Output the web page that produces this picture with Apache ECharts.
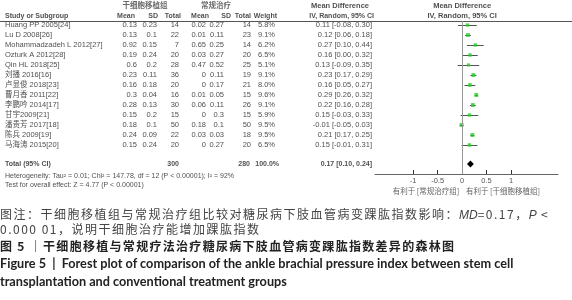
<!DOCTYPE html>
<html>
<head>
<meta charset="utf-8">
<script src="https://cdn.jsdelivr.net/npm/echarts@6/dist/echarts.min.js"></script>
<style>
body { margin: 0; background: #fff; }
#wrap { position: relative; width: 572px; height: 300px; overflow: hidden; }
#chart { position: absolute; left: 0; top: 0; width: 572px; height: 300px; }
.cap { position: absolute; left: 0; white-space: nowrap; line-height: 16px; height: 16px; }
.cn { font-family: 'Noto Sans CJK SC', sans-serif; font-size: 12px; letter-spacing: 1.5px; color: #444; }
.cn i { font-family: 'Liberation Sans', Arial, sans-serif; letter-spacing: 0; }
.cnb { font-family: 'Noto Sans CJK SC', sans-serif; font-size: 12px; letter-spacing: 1.3px; color: #222; font-weight: bold; }
.en { font-family: Lato, 'Open Sans', sans-serif; font-size: 12.7px; font-weight: bold; color: #222; }
</style>
</head>
<body>
<div id="wrap">
  <div id="chart"></div>
  <div class="cap cn" style="top:206px">图注：干细胞移植组与常规治疗组比较对糖尿病下肢血管病变踝肱指数影响：<i>MD</i>=0.17，<i>P</i> &lt;</div>
  <div class="cap cn" style="top:221px">0.000 01，说明干细胞治疗能增加踝肱指数</div>
  <div class="cap cnb" style="top:238px">图 5 ｜干细胞移植与常规疗法治疗糖尿病下肢血管病变踝肱指数差异的森林图</div>
  <div class="cap en" style="top:255px">Figure 5 &nbsp;|&nbsp; Forest plot of comparison of the ankle brachial pressure index between stem cell</div>
  <div class="cap en" style="top:273px">transplantation and conventional treatment groups</div>
</div>
<script>
// 研究数据
var studies = ['Huang PP 2005[24]', 'Lu D 2008[26]', 'Mohammadzadeh L 2012[27]', 'Ozturk A 2012[28]',
  'Qin HL 2018[25]', '刘播 2016[16]', '卢显俊 2018[23]', '曹月香 2011[22]', '李鹏吟 2014[17]',
  '甘宇2009[21]', '潘贵芳 2017[18]', '陈兵 2009[19]', '马海涛 2015[20]']
var expMean = [0.13, 0.13, 0.92, 0.19, 0.6, 0.23, 0.16, 0.3, 0.28, 0.15, 0.18, 0.24, 0.15]
var expSD = [0.23, 0.1, 0.15, 0.24, 0.2, 0.11, 0.18, 0.04, 0.13, 0.2, 0.1, 0.09, 0.24]
var expN = [14, 22, 7, 20, 28, 36, 20, 16, 30, 15, 50, 22, 20]
var ctlMean = [0.02, 0.01, 0.65, 0.03, 0.47, 0, 0, 0.01, 0.06, 0, 0.18, 0.03, 0]
var ctlSD = [0.27, 0.11, 0.25, 0.27, 0.52, 0.11, 0.17, 0.05, 0.11, 0.3, 0.1, 0.03, 0.27]
var ctlN = [14, 23, 14, 20, 25, 19, 21, 15, 26, 15, 50, 18, 20]
var weight = [5.8, 9.1, 6.2, 6.5, 5.1, 9.1, 8.0, 9.6, 9.1, 5.9, 9.5, 9.5, 6.5]
var md = [0.11, 0.12, 0.27, 0.16, 0.13, 0.23, 0.16, 0.29, 0.22, 0.15, -0.01, 0.21, 0.15]
var ciLo = [-0.08, 0.06, 0.10, 0.00, -0.09, 0.17, 0.05, 0.26, 0.16, -0.03, -0.05, 0.17, -0.01]
var ciHi = [0.30, 0.18, 0.44, 0.32, 0.35, 0.29, 0.27, 0.32, 0.28, 0.33, 0.03, 0.25, 0.31]

// 合并结果
var totalExp = 300
var totalCtl = 280
var totalWeight = 100.0
var pooled = [0.10, 0.17, 0.24]
var heteroText = 'Heterogeneity: Tau² = 0.01; Chi² = 147.78, df = 12 (P < 0.00001); I² = 92%'
var overallText = 'Test for overall effect: Z = 4.77 (P < 0.00001)'
var colHeaders = ['Study or Subgroup', 'Mean', 'SD', 'Total', 'Mean', 'SD', 'Total', 'Weight', 'IV, Random, 95% CI']
var axisTicks = [-1, -0.5, 0, 0.5, 1]

var font = "'Liberation Sans', Arial, 'Noto Sans CJK SC', sans-serif"
var rows = studies.map(function (s, i) { return i })
var totalRow = 13.9
var headRow1 = -1.9
var headRow2 = -0.9

// 列位置（表格坐标 = 像素）
var colX = [5, 137, 157, 179, 206, 224, 251, 275, 372]
var headX = [5, 135, 158, 181, 209, 231, 251, 277, 374]

function fmt2 (v) { return v.toFixed(2) }

// 表格文字：每列一个 scatter，只显示 label
function cells (x, rs, texts, align, bold, size, color, onPlot) {
  return {
    type: 'scatter',
    xAxisIndex: onPlot ? 1 : 0,
    yAxisIndex: onPlot ? 1 : 0,
    symbolSize: 0,
    silent: true,
    data: rs.map(function (r, i) { return [x, r, texts[i]] }),
    label: {
      show: true,
      position: 'inside',
      align: align,
      verticalAlign: 'middle',
      color: color || '#222',
      fontSize: size || 7.5,
      fontFamily: font,
      fontWeight: bold ? 'bold' : 'normal',
      formatter: function (p) { return p.data[2] }
    }
  }
}

var ciText = md.map(function (v, i) {
  return fmt2(v) + ' [' + fmt2(ciLo[i]) + ', ' + fmt2(ciHi[i]) + ']'
})

var series = [
  cells(colX[0], rows, studies, 'left'),
  cells(colX[1], rows, expMean.map(String), 'right'),
  cells(colX[2], rows, expSD.map(String), 'right'),
  cells(colX[3], rows, expN.map(String), 'right'),
  cells(colX[4], rows, ctlMean.map(String), 'right'),
  cells(colX[5], rows, ctlSD.map(String), 'right'),
  cells(colX[6], rows, ctlN.map(String), 'right'),
  cells(colX[7], rows, weight.map(function (w) { return w.toFixed(1) + '%' }), 'right'),
  cells(colX[8], rows, ciText, 'right'),
  // 表头
  cells(145, [headRow1], ['干细胞移植组'], 'center', true, 7.5, '#444'),
  cells(216, [headRow1], ['常规治疗'], 'center', true, 7.5, '#444'),
  cells(340, [headRow1], ['Mean Difference'], 'center', true, 7.5),
  // 合计
  cells(colX[0], [totalRow], ['Total (95% CI)'], 'left', true, 7),
  cells(colX[3], [totalRow], [String(totalExp)], 'right', true, 7),
  cells(colX[6] - 1, [totalRow], [String(totalCtl)], 'right', true, 7),
  cells(colX[7] + 4, [totalRow], [totalWeight.toFixed(1) + '%'], 'right', true, 7),
  cells(colX[8], [totalRow], [fmt2(pooled[1]) + ' [' + fmt2(pooled[0]) + ', ' + fmt2(pooled[2]) + ']'], 'right', true, 7),
  cells(colX[0], [15.1], [heteroText], 'left', false, 7),
  cells(colX[0], [16.0], [overallText], 'left', false, 7),
  // 森林图表头
  cells(0, [headRow1], ['Mean Difference'], 'center', true, 7.5, null, true),
  cells(0, [headRow2], ['IV, Random, 95% CI'], 'center', true, 7.5, null, true)
]
colHeaders.forEach(function (h, i) {
  series.push(cells(headX[i], [headRow2], [h], i === 0 ? 'left' : 'right', true, 7))
})

// 森林图：置信区间
series.push({
  type: 'custom',
  xAxisIndex: 1,
  yAxisIndex: 1,
  silent: true,
  data: rows.map(function (r, i) { return [ciLo[i], ciHi[i], r] }),
  renderItem: function (params, api) {
    var a = api.coord([api.value(0), api.value(2)])
    var b = api.coord([api.value(1), api.value(2)])
    return {
      type: 'line',
      shape: { x1: a[0], y1: Math.round(a[1]) + 0.5, x2: b[0], y2: Math.round(b[1]) + 0.5 },
      style: { stroke: '#555', lineWidth: 1 }
    }
  },
  markLine: {
    silent: true,
    symbol: 'none',
    label: { show: false },
    lineStyle: { color: '#999', type: 'solid', width: 1 },
    data: [[{ coord: [0, -0.4] }, { coord: [0, 14.9] }]]
  }
})
// 点估计
series.push({
  type: 'scatter',
  xAxisIndex: 1,
  yAxisIndex: 1,
  silent: true,
  symbol: 'rect',
  symbolSize: function (v) { return 2.4 + v[2] * 0.15 },
  itemStyle: { color: '#22c922' },
  data: rows.map(function (r, i) { return [md[i], r, weight[i]] })
})
// 合并菱形
series.push({
  type: 'custom',
  xAxisIndex: 1,
  yAxisIndex: 1,
  silent: true,
  data: [[pooled[0], pooled[1], pooled[2], totalRow]],
  renderItem: function (params, api) {
    var y = api.value(3)
    var l = api.coord([api.value(0), y])
    var c1 = api.coord([api.value(1), y - 0.35])
    var r = api.coord([api.value(2), y])
    var c2 = api.coord([api.value(1), y + 0.35])
    return {
      type: 'polygon',
      shape: { points: [l, c1, r, c2] },
      style: { fill: '#000' }
    }
  }
})

var cjk = "'Noto Sans CJK SC', sans-serif"
var option = {
  animation: false,
  textStyle: { fontFamily: font },
  grid: [
    { left: 0, top: 0, width: 375, height: 190 },
    { left: 375, top: 0, width: 183, height: 174 }
  ],
  xAxis: [
    { gridIndex: 0, type: 'value', min: 0, max: 375, show: false },
    {
      gridIndex: 1,
      type: 'value',
      min: -1.78,
      max: 1.96,
      splitLine: { show: false },
      axisLine: { onZero: false, lineStyle: { color: '#666', width: 1 } },
      axisTick: { customValues: axisTicks, inside: true, length: 4, lineStyle: { color: '#333' } },
      axisLabel: { customValues: axisTicks, fontSize: 7.5, color: '#555', margin: 3, fontFamily: font }
    }
  ],
  yAxis: [
    { gridIndex: 0, type: 'value', min: -2.5, max: 16.5, inverse: true, show: false },
    { gridIndex: 1, type: 'value', min: -2.5, max: 14.9, inverse: true, show: false }
  ],
  graphic: [
    { type: 'line', shape: { x1: 0, y1: 21.5, x2: 572, y2: 21.5 }, style: { stroke: '#555', lineWidth: 1 }, silent: true },
    { type: 'text', x: 426, y: 191, style: { text: '有利于 [常规治疗组]', align: 'center', textAlign: 'center', verticalAlign: 'middle', textVerticalAlign: 'middle', fontSize: 7.5, fontFamily: cjk, fill: '#666' } },
    { type: 'text', x: 503, y: 191, style: { text: '有利于 [干细胞移植组]', align: 'center', textAlign: 'center', verticalAlign: 'middle', textVerticalAlign: 'middle', fontSize: 7.5, fontFamily: cjk, fill: '#666' } }
  ],
  series: series
}

var chart = echarts.init(document.getElementById('chart'))
chart.setOption(option)
</script>
</body>
</html>
